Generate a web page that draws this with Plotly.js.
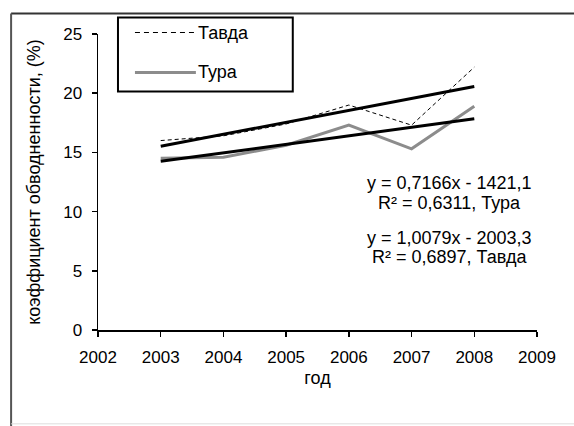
<!DOCTYPE html>
<html>
<head>
<meta charset="utf-8">
<script src="https://cdn.plot.ly/plotly-3.0.1.min.js"></script>
<style>html,body{margin:0;padding:0;background:#fff}#chart{width:574px;height:426px}</style>
</head>
<body>
<div id="chart"></div>
<script>
// ---- data ----
const years = [2003, 2004, 2005, 2006, 2007, 2008];
const tavda = [16.0, 16.4, 17.4, 19.0, 17.3, 22.2];
const tura  = [14.5, 14.6, 15.6, 17.3, 15.3, 18.9];
const seriesNames = ["Тавда", "Тура"];
const trendSlope = [1.0079, 0.7166];      // Тавда, Тура
const trendIntercept = [-2003.3, -1421.1];
const trendLines = ["y = 0,7166x - 1421,1", "R² = 0,6311, Тура",
                    "y = 1,0079x - 2003,3", "R² = 0,6897, Тавда"];
const xTitle = "год";
const yTitle = "коэффициент обводненности, (%)";

// ---- layout helpers (pixel -> paper) ----
const W = 574, H = 426;
const L = 98, R = 537.5, T = 33.5, B = 330;
const px = p => (p - L) / (R - L);
const py = p => (B - p) / (B - T);
const FONT = "Liberation Sans, Arial, sans-serif";
const FS = 18;

const trendX = [years[0], years[years.length - 1]];
const trendY = i => trendX.map(x => trendSlope[i] * x + trendIntercept[i]);

const traces = [
  {x: years, y: tavda, name: seriesNames[0], mode: "lines",
   line: {color: "#000", width: 1, dash: "4px,3px"}},
  {x: years, y: tura, name: seriesNames[1], mode: "lines",
   line: {color: "#8c8c8c", width: 3}},
  {x: trendX, y: trendY(0), mode: "lines", line: {color: "#000", width: 3}},
  {x: trendX, y: trendY(1), mode: "lines", line: {color: "#000", width: 3}}
];

const eqY = [183, 203, 238, 257];
const eqAnn = trendLines.map((t, i) => ({
  xref: "paper", yref: "paper", x: px(450), y: py(eqY[i]), xanchor: "center", yanchor: "middle",
  text: t, showarrow: false, font: {family: FONT, size: FS}
}));

const layout = {
  width: W, height: H,
  margin: {l: L, r: W - R, t: T, b: H - B, pad: 0},
  paper_bgcolor: "#fff", plot_bgcolor: "#fff",
  showlegend: false,
  font: {family: FONT, size: FS, color: "#000"},
  xaxis: {range: [2002, 2009], dtick: 1, tick0: 2002, showgrid: false, zeroline: false,
          showline: true, linecolor: "#000", linewidth: 1.5, ticks: "outside",
          ticklen: 5, tickcolor: "#000", tickwidth: 1.5, ticklabelstandoff: 6,
          tickfont: {family: FONT, size: 17},
          title: {text: xTitle, font: {family: FONT, size: FS}, standoff: 5}},
  yaxis: {range: [0, 25], dtick: 5, showgrid: false, zeroline: false,
          showline: true, linecolor: "#000", linewidth: 1.5, ticks: "outside",
          ticklen: 5, tickcolor: "#000", tickwidth: 1.5, ticklabelstandoff: 6,
          tickfont: {family: FONT, size: 17},
          title: {text: yTitle, font: {family: FONT, size: FS}, standoff: 18}},
  shapes: [
    // outer frame
    {type: "line", xref: "paper", yref: "paper", x0: px(11), x1: px(580), y0: py(13), y1: py(13),
     line: {color: "#333", width: 2}},
    {type: "line", xref: "paper", yref: "paper", x0: px(11), x1: px(11), y0: py(13), y1: py(430),
     line: {color: "#555", width: 2}},
    {type: "line", xref: "paper", yref: "paper", x0: px(11), x1: px(580), y0: py(424), y1: py(424),
     line: {color: "#ddd", width: 1}},
    // legend box
    {type: "rect", xref: "paper", yref: "paper", x0: px(118), x1: px(293), y0: py(17), y1: py(91),
     line: {color: "#000", width: 2}, fillcolor: "#fff"},
    {type: "line", xref: "paper", yref: "paper", x0: px(135), x1: px(196), y0: py(32), y1: py(32),
     line: {color: "#000", width: 1, dash: "5px,4px"}},
    {type: "line", xref: "paper", yref: "paper", x0: px(135), x1: px(196), y0: py(72), y1: py(72),
     line: {color: "#8c8c8c", width: 3}}
  ],
  annotations: [
    {xref: "paper", yref: "paper", x: px(196), y: py(32), xanchor: "left", yanchor: "middle",
     text: seriesNames[0], showarrow: false, font: {family: FONT, size: FS}},
    {xref: "paper", yref: "paper", x: px(196), y: py(72), xanchor: "left", yanchor: "middle",
     text: seriesNames[1], showarrow: false, font: {family: FONT, size: FS}}
  ].concat(eqAnn)
};

Plotly.newPlot("chart", traces, layout, {staticPlot: true, displayModeBar: false});
</script>
</body>
</html>
